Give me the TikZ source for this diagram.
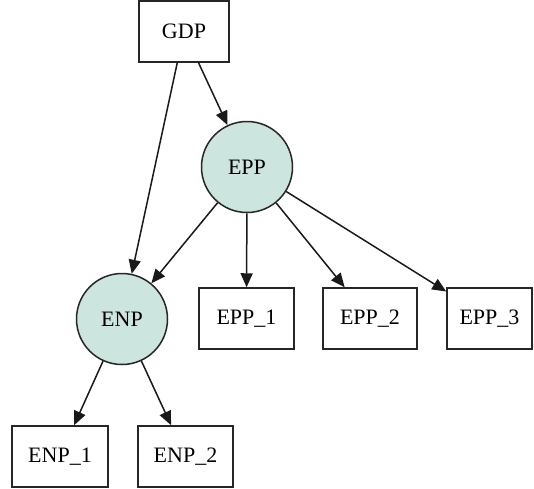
\documentclass[tikz,border=0pt]{standalone}
\usepackage{fontspec}
\setmainfont{Liberation Serif}
\usetikzlibrary{arrows.meta}
\definecolor{nodefill}{RGB}{204,229,223}
\begin{document}
\begin{tikzpicture}[x=1pt,y=-1pt,
  every node/.style={font=\fontsize{22}{26}\selectfont, line width=1.5pt, inner sep=0pt},
  box/.style={draw=black!85, rectangle, minimum height=61pt},
  hub/.style={draw=black!85, circle, fill=nodefill, minimum size=91pt},
  edge/.style={draw=black!90, line width=1.5pt, -{Triangle[length=14pt,width=12pt]}}]
\useasboundingbox (0,0) rectangle (534,488);
\node[box, minimum width=90pt] (gdp) at (184,31.5) {GDP};
\node[hub] (epp) at (247,167) {EPP};
\node[hub] (enp) at (122,319) {ENP};
\node[box, minimum width=95pt] (epp1) at (246.5,318.5) {EPP\_1};
\node[box, minimum width=94pt] (epp2) at (370,318.5) {EPP\_2};
\node[box, minimum width=85pt] (epp3) at (489.5,318.5) {EPP\_3};
\node[box, minimum width=96pt] (enp1) at (60,456.5) {ENP\_1};
\node[box, minimum width=95pt] (enp2) at (185.5,456.5) {ENP\_2};
\draw[edge] (gdp) -- (epp);
\draw[edge] (gdp) -- (enp);
\draw[edge] (epp) -- (enp);
\draw[edge] (epp) -- (epp1);
\draw[edge] (epp) -- (epp2);
\draw[edge] (epp) -- (epp3);
\draw[edge] (enp) -- (enp1);
\draw[edge] (enp) -- (enp2);
\end{tikzpicture}
\end{document}
